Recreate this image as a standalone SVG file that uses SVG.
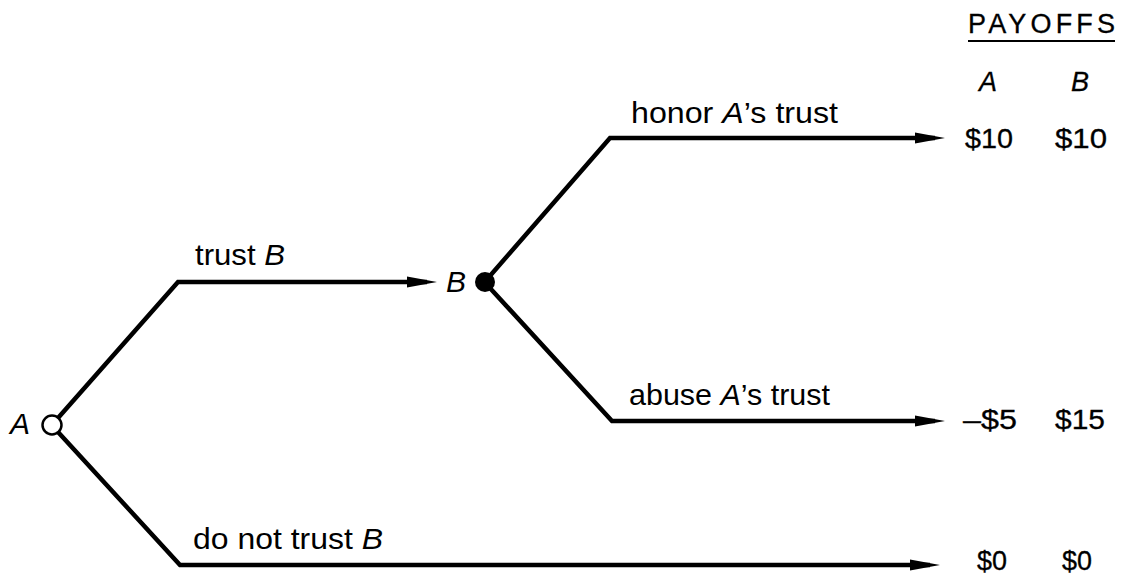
<svg xmlns="http://www.w3.org/2000/svg" width="1123" height="576" viewBox="0 0 1123 576">
<defs>
<style>
.edge{fill:none;stroke:#000;stroke-width:4.5;stroke-linejoin:miter}
.lbl{font-family:"Liberation Sans",Arial,sans-serif;font-size:30px;fill:#000}
.pay{font-family:"Liberation Sans",Arial,sans-serif;font-size:27px;fill:#000;stroke:#000;stroke-width:0.3}
.it{font-style:italic}
</style>
<marker id="arr" markerUnits="userSpaceOnUse" markerWidth="30" markerHeight="14" viewBox="0 0 30 14" refX="20" refY="7" orient="auto">
<path d="M0,1.5 L30,7 L0,12.5 Z" fill="#000"/>
</marker>
</defs>
<rect width="1123" height="576" fill="#fff"/>
<g id="connectors">
<polyline class="edge" points="58,418 178,282 427,282" marker-end="url(#arr)"/>
<polyline class="edge" points="489,277 610,138 935,138" marker-end="url(#arr)"/>
<polyline class="edge" points="489,287 612,421 935,421" marker-end="url(#arr)"/>
<polyline class="edge" points="58,432 180,565 930,565" marker-end="url(#arr)"/>
</g>
<g id="node-A">
<circle cx="52" cy="425" r="9.5" fill="#fff" stroke="#000" stroke-width="2.5"/>
<text class="lbl it" x="10" y="434">A</text>
</g>
<g id="node-B">
<circle cx="485" cy="282" r="10" fill="#000"/>
<text class="lbl it" x="446" y="292">B</text>
</g>
<g id="edge-labels">
<text class="lbl" x="195" y="265" textLength="90" lengthAdjust="spacingAndGlyphs">trust <tspan class="it">B</tspan></text>
<text class="lbl" x="631" y="123" textLength="207" lengthAdjust="spacingAndGlyphs">honor <tspan class="it">A</tspan>’s trust</text>
<text class="lbl" x="629" y="405" textLength="201" lengthAdjust="spacingAndGlyphs">abuse <tspan class="it">A</tspan>’s trust</text>
<text class="lbl" x="193" y="549" textLength="190" lengthAdjust="spacingAndGlyphs">do not trust <tspan class="it">B</tspan></text>
</g>
<g id="payoffs">
<text class="pay" x="968" y="33" textLength="147" lengthAdjust="spacing">PAYOFFS</text>
<line x1="968" y1="41" x2="1115" y2="41" stroke="#000" stroke-width="2"/>
<text class="pay it" x="979" y="91">A</text>
<text class="pay it" x="1071" y="91">B</text>
<text class="pay" x="965" y="148" textLength="48" lengthAdjust="spacingAndGlyphs">$10</text>
<text class="pay" x="1055" y="148" textLength="52" lengthAdjust="spacingAndGlyphs">$10</text>
<text class="pay" x="963" y="429" textLength="54" lengthAdjust="spacingAndGlyphs">–$5</text>
<text class="pay" x="1055" y="429" textLength="50" lengthAdjust="spacingAndGlyphs">$15</text>
<text class="pay" x="977" y="570" textLength="30" lengthAdjust="spacingAndGlyphs">$0</text>
<text class="pay" x="1062" y="570" textLength="30" lengthAdjust="spacingAndGlyphs">$0</text>
</g>
</svg>
